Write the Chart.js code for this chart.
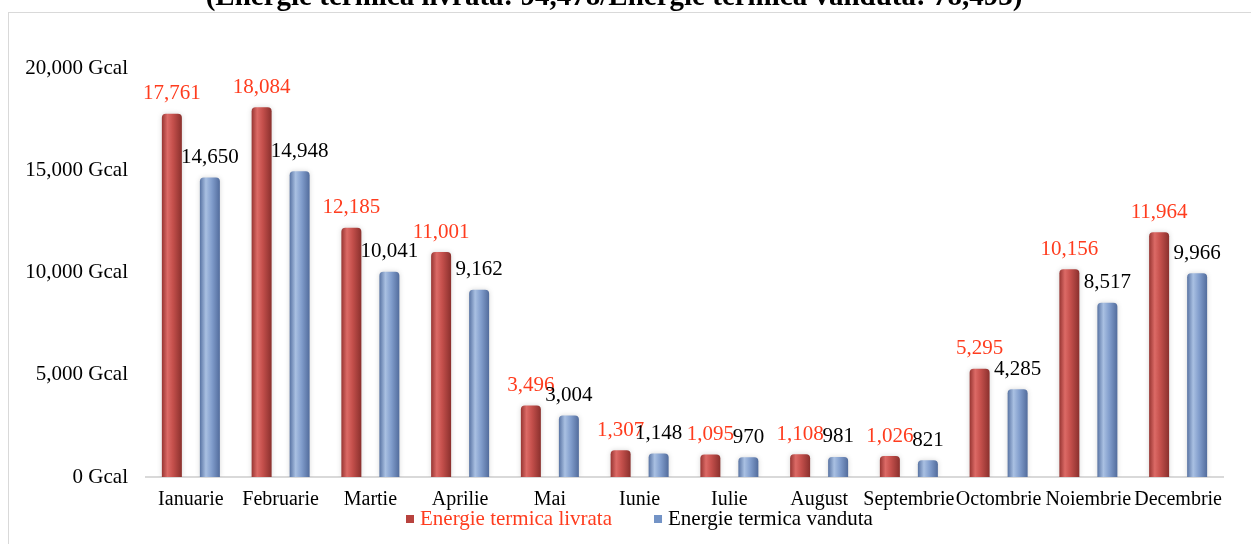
<!DOCTYPE html>
<html lang="ro">
<head>
<meta charset="UTF-8">
<title>Energie termica</title>
<script src="https://cdn.jsdelivr.net/npm/chart.js"></script>
<style>
    body { margin: 0; background: #ffffff; }
    #cadru { position: absolute; left: 8px; top: 12px; width: 1300px; height: 600px; border: 1px solid #d9d9d9; }
    #zona { position: absolute; left: 0; top: 0; width: 1251px; height: 544px; }
</style>
</head>
<body>
<div id="cadru"></div>
<div id="zona"><canvas id="grafic" width="1251" height="544"></canvas></div>

<script>
    // date
    const luni = ['Ianuarie', 'Februarie', 'Martie', 'Aprilie', 'Mai', 'Iunie', 'Iulie', 'August', 'Septembrie', 'Octombrie', 'Noiembrie', 'Decembrie'];
    const livrata = [17761, 18084, 12185, 11001, 3496, 1307, 1095, 1108, 1026, 5295, 10156, 11964];
    const vanduta = [14650, 14948, 10041, 9162, 3004, 1148, 970, 981, 821, 4285, 8517, 9966];
    const ticksY = [0, 5000, 10000, 15000, 20000];
    const titlu = '(Energie termica livrata: 94,478/Energie termica vanduta: 78,493)';

    const FONT = "'Times New Roman', 'Liberation Serif', serif";
    const CAT_PCT = 0.847;
    const BAR_PCT = 0.526;

    // culori "cilindru" ca in Excel
    const stopsRosu = [[0, '#973532'], [0.28, '#dc6a66'], [0.55, '#c5504c'], [1, '#8a302d']];
    const stopsAlbastru = [[0, '#5873a3'], [0.3, '#a9c0e2'], [0.6, '#819dcc'], [1, '#526c9c']];

    function gradient(context) {
        const chart = context.chart;
        const xs = chart.scales.x;
        const stops = context.datasetIndex === 0 ? stopsRosu : stopsAlbastru;
        if (!xs || !chart.chartArea || context.dataIndex === undefined) return stops[2][1];
        const lat = xs.width / luni.length;
        const slot = lat * CAT_PCT / 2;
        const c = xs.getPixelForValue(context.dataIndex) + (context.datasetIndex === 0 ? -slot / 2 : slot / 2);
        const hw = slot * BAR_PCT / 2;
        const g = chart.ctx.createLinearGradient(c - hw, 0, c + hw, 0);
        stops.forEach(s => g.addColorStop(s[0], s[1]));
        return g;
    }

    const umbra = {
        id: 'umbra',
        beforeDatasetsDraw(chart) {
            const ctx = chart.ctx;
            ctx.save();
            ctx.shadowColor = 'rgba(0,0,0,0.16)';
            ctx.shadowBlur = 5;
        },
        afterDatasetsDraw(chart) {
            chart.ctx.restore();
        }
    };

    const etichete = {
        id: 'etichete',
        afterDatasetsDraw(chart) {
            const ctx = chart.ctx;
            ctx.save();
            ctx.font = '21px ' + FONT;
            ctx.textAlign = 'center';
            ctx.textBaseline = 'middle';
            chart.data.datasets.forEach((ds, i) => {
                ctx.fillStyle = i === 0 ? '#ff3c1e' : '#000000';
                chart.getDatasetMeta(i).data.forEach((bar, j) => {
                    ctx.fillText(ds.data[j].toLocaleString('en-US'), bar.x, bar.y - 20);
                });
            });
            ctx.restore();
        }
    };

    const titluSiLegenda = {
        id: 'titluSiLegenda',
        afterDraw(chart) {
            const ctx = chart.ctx;
            ctx.save();
            ctx.font = 'bold 29px ' + FONT;
            ctx.fillStyle = '#000000';
            ctx.textAlign = 'center';
            ctx.textBaseline = 'alphabetic';
            ctx.fillText(titlu, 614, 5);

            // legenda
            ctx.font = '21px ' + FONT;
            ctx.textAlign = 'left';
            ctx.textBaseline = 'middle';
            let x = 406;
            const y = 519;
            const culoriText = ['#ff3c1e', '#000000'];
            const culoriMarcaj = ['#b8423e', '#7393c6'];
            chart.data.datasets.forEach((ds, i) => {
                ctx.fillStyle = culoriMarcaj[i];
                ctx.fillRect(x, y - 4, 8, 8);
                ctx.fillStyle = culoriText[i];
                ctx.fillText(ds.label, x + 14, y);
                x += 14 + ctx.measureText(ds.label).width + 42;
            });
            ctx.restore();
        }
    };

    new Chart(document.getElementById('grafic').getContext('2d'), {
        type: 'bar',
        data: {
            labels: luni,
            datasets: [
                {
                    label: 'Energie termica livrata',
                    data: livrata,
                    backgroundColor: gradient,
                    borderWidth: 0,
                    borderRadius: { topLeft: 4, topRight: 4 },
                    borderSkipped: 'bottom',
                    categoryPercentage: CAT_PCT,
                    barPercentage: BAR_PCT
                },
                {
                    label: 'Energie termica vanduta',
                    data: vanduta,
                    backgroundColor: gradient,
                    borderWidth: 0,
                    borderRadius: { topLeft: 4, topRight: 4 },
                    borderSkipped: 'bottom',
                    categoryPercentage: CAT_PCT,
                    barPercentage: BAR_PCT
                }
            ]
        },
        options: {
            responsive: false,
            animation: false,
            devicePixelRatio: 1,
            layout: { padding: { left: 10, right: 28, top: 68, bottom: 0 } },
            plugins: {
                legend: { display: false },
                title: { display: false },
                tooltip: { enabled: false }
            },
            scales: {
                x: {
                    grid: { display: false, drawTicks: false },
                    border: { color: '#d9d9d9', width: 2 },
                    ticks: {
                        color: '#000000',
                        font: { family: FONT, size: 20 },
                        padding: 11,
                        autoSkip: false,
                        maxRotation: 0
                    },
                    afterFit(scale) { scale.height = 67; }
                },
                y: {
                    min: 0,
                    max: 20000,
                    grid: { display: false, drawTicks: false },
                    border: { display: false },
                    ticks: {
                        color: '#000000',
                        font: { family: FONT, size: 21 },
                        padding: 18,
                        callback: v => v.toLocaleString('en-US') + ' Gcal'
                    },
                    afterBuildTicks(scale) { scale.ticks = ticksY.map(v => ({ value: v })); },
                    afterFit(scale) { scale.width = 136; }
                }
            }
        },
        plugins: [umbra, etichete, titluSiLegenda]
    });
</script>
</body>
</html>
